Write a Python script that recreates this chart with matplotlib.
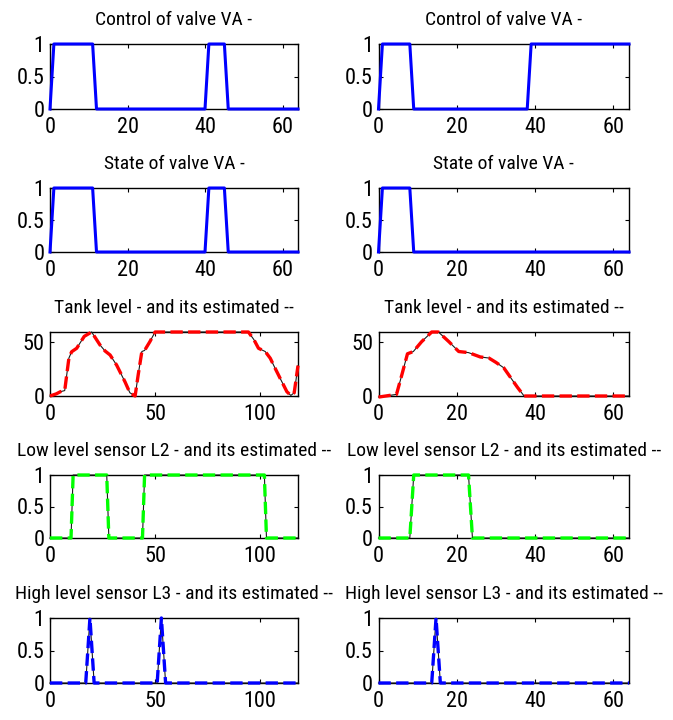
import matplotlib
matplotlib.use("Agg")
import matplotlib.pyplot as plt
from matplotlib import font_manager
from matplotlib.font_manager import FontProperties

# ---------------- data ----------------
# Control / state of valve VA (left: 0..64, right: 0..64)
ctrl_left_t = [0, 1, 11, 12, 40, 41, 45, 46, 64]
ctrl_left_v = [0, 1, 1, 0, 0, 1, 1, 0, 0]
ctrl_right_t = [0, 1, 8, 9, 38, 39, 64]
ctrl_right_v = [0, 1, 1, 0, 0, 1, 1]

state_left_t = [0, 1, 11, 12, 40, 41, 45, 46, 64]
state_left_v = [0, 1, 1, 0, 0, 1, 1, 0, 0]
state_right_t = [0, 1, 8, 9, 64]
state_right_v = [0, 1, 1, 0, 0]

# Tank level and its estimate
tank_left_t = [0, 3, 5, 7, 8, 9, 10.3, 12.7, 16.3, 19.8, 23.8, 26.2, 28.6, 31.7,
               35.7, 38, 40.5, 42, 43.7, 45, 47.5, 50, 94.4, 97, 99.2, 102.4,
               104.8, 107, 109.5, 112.7, 114.6, 116.2, 118]
tank_left_level = [0, 2, 4, 5, 20, 35, 40.8, 44, 55, 59, 47, 41.5, 37.8, 28.5,
                   13, 3, 0, 20, 41, 42, 50, 59, 59, 52, 44, 41, 34.8, 26,
                   16.3, 4, 0.5, 3, 28]
tank_left_est = list(tank_left_level)

tank_right_t = [0, 4.6, 6, 7.4, 8.9, 11, 13.6, 15.3, 18, 20.5, 23, 26, 28.2,
                30, 32, 35.5, 37.2, 64]
tank_right_level = [-1, 1.5, 20, 38.9, 41, 50, 59, 59, 50, 41, 40, 36, 35,
                    31, 26, 8, 0, 0]
tank_right_est = list(tank_right_level)

# Low level sensor L2 and its estimate
l2_left_t = [0, 10, 11, 27, 28, 44, 45, 102, 103, 118]
l2_left_v = [0, 0, 1, 1, 0, 0, 1, 1, 0, 0]
l2_left_est = list(l2_left_v)
l2_right_t = [0, 8, 9, 23, 24, 64]
l2_right_v = [0, 0, 1, 1, 0, 0]
l2_right_est = list(l2_right_v)

# High level sensor L3 and its estimate
l3_left_t = [0, 17, 19, 21, 51, 53, 55, 118]
l3_left_v = [0, 0, 1, 0, 0, 1, 0, 0]
l3_left_est = list(l3_left_v)
l3_right_t = [0, 13.6, 14.7, 15.8, 64]
l3_right_v = [0, 0, 1, 0, 0]
l3_right_est = list(l3_right_v)

titles = ["Control of valve VA -", "State of valve VA -",
          "Tank level - and its estimated --",
          "Low level sensor L2 - and its estimated --",
          "High level sensor L3 - and its estimated --"]

# ---------------- font: prefer a narrow sans ----------------
def find_narrow():
    prefs = ["liberation sans narrow", "arial narrow", "roboto condensed",
             "open sans condensed", "noto sans condensed", "dejavu sans condensed",
             "dejavu sans"]
    cands = []
    for f in font_manager.fontManager.ttflist:
        fn = f.fname.lower().replace("-", "").replace("_", "")
        nm = f.name.lower()
        st = str(f.stretch).lower()
        narrow = ("narrow" in fn or "condensed" in fn or "narrow" in nm
                  or "condensed" in nm or st in ("condensed", "semi-condensed"))
        if not narrow:
            continue
        if "bold" in fn or "italic" in fn or "oblique" in fn or "light" in fn \
                or "black" in fn or "medium" in fn or "thin" in fn or "semi" in fn \
                or "extra" in fn:
            continue
        key = nm + " " + fn
        score = 99
        for i, p in enumerate(prefs):
            if all(w in key.replace(" ", "") or w in key for w in p.split()):
                score = i
                break
        cands.append((score, f.fname))
    cands.sort()
    return cands[0][1] if cands else None

narrow_file = find_narrow()
if narrow_file:
    TFP = FontProperties(fname=narrow_file, size=14)
    KFP = FontProperties(fname=narrow_file, size=16)
else:
    plt.rcParams['font.family'] = ['Liberation Sans', 'DejaVu Sans']
    TFP = FontProperties(family=['Liberation Sans', 'DejaVu Sans'], size=12.5)
    KFP = FontProperties(family=['Liberation Sans', 'DejaVu Sans'], size=14)

W, H = 673, 720
fig = plt.figure(figsize=(W / 100, H / 100), dpi=100)

cols = [(50, 298), (378.5, 629)]
rows = [(44, 109), (188, 252), (332, 396), (475, 538), (618, 683)]


def make_ax(r, c):
    x0, x1 = cols[c]
    y0, y1 = rows[r]
    ax = fig.add_axes([x0 / W, 1 - y1 / H, (x1 - x0) / W, (y1 - y0) / H])
    ax.tick_params(direction='in', length=3, width=0.8, top=True, right=True)
    ax.tick_params(axis='x', pad=6)
    ax.tick_params(axis='y', pad=4)
    for s in ax.spines.values():
        s.set_linewidth(1.0)
    ax.set_title(titles[r], fontproperties=TFP, pad=14)
    return ax


def finish(ax):
    for lab in ax.get_xticklabels() + ax.get_yticklabels():
        lab.set_fontproperties(KFP)


def binary(ax, t, v, xmax, xticks):
    ax.plot(t, v, color=(0, 0, 1), lw=2.2, clip_on=False, zorder=5)
    ax.set_xlim(0, xmax)
    ax.set_ylim(0, 1)
    ax.set_yticks([0, 0.5, 1])
    ax.set_yticklabels(["0", "0.5", "1"])
    ax.set_xticks(xticks)
    ax.set_xticklabels([str(x) for x in xticks])
    finish(ax)


def with_est(ax, t, v, e, color, xmax, xticks, ylim, yticks, yl):
    ax.plot(t, v, color=(0.1, 0.1, 0.1), lw=0.8, clip_on=False, zorder=5)
    ax.plot(t, e, color=color, lw=2.4, ls='--', clip_on=False, zorder=6)
    ax.set_xlim(0, xmax)
    ax.set_ylim(*ylim)
    ax.set_yticks(yticks)
    ax.set_yticklabels(yl)
    ax.set_xticks(xticks)
    ax.set_xticklabels([str(x) for x in xticks])
    finish(ax)


binary(make_ax(0, 0), ctrl_left_t, ctrl_left_v, 64, [0, 20, 40, 60])
binary(make_ax(0, 1), ctrl_right_t, ctrl_right_v, 64, [0, 20, 40, 60])
binary(make_ax(1, 0), state_left_t, state_left_v, 64, [0, 20, 40, 60])
binary(make_ax(1, 1), state_right_t, state_right_v, 64, [0, 20, 40, 60])

with_est(make_ax(2, 0), tank_left_t, tank_left_level, tank_left_est, (1, 0, 0),
         118, [0, 50, 100], (0, 59), [0, 50], ["0", "50"])
with_est(make_ax(2, 1), tank_right_t, tank_right_level, tank_right_est, (1, 0, 0),
         64, [0, 20, 40, 60], (0, 59), [0, 50], ["0", "50"])

with_est(make_ax(3, 0), l2_left_t, l2_left_v, l2_left_est, (0, 1, 0),
         118, [0, 50, 100], (0, 1), [0, 0.5, 1], ["0", "0.5", "1"])
with_est(make_ax(3, 1), l2_right_t, l2_right_v, l2_right_est, (0, 1, 0),
         64, [0, 20, 40, 60], (0, 1), [0, 0.5, 1], ["0", "0.5", "1"])

with_est(make_ax(4, 0), l3_left_t, l3_left_v, l3_left_est, (0, 0, 1),
         118, [0, 50, 100], (0, 1), [0, 0.5, 1], ["0", "0.5", "1"])
with_est(make_ax(4, 1), l3_right_t, l3_right_v, l3_right_est, (0, 0, 1),
         64, [0, 20, 40, 60], (0, 1), [0, 0.5, 1], ["0", "0.5", "1"])

fig.savefig("out.png", dpi=100)
